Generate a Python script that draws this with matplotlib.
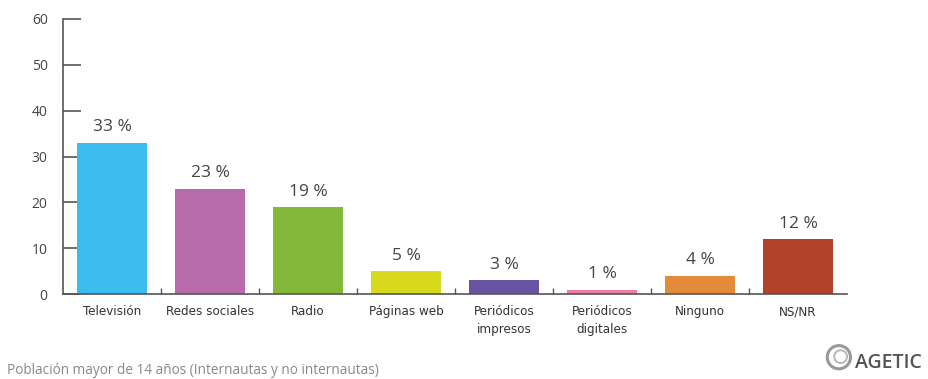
import numpy as np
import matplotlib.pyplot as plt
from matplotlib.patches import Circle

categorias = ["Televisión", "Redes sociales", "Radio", "Páginas web",
              "Periódicos\nimpresos", "Periódicos\ndigitales", "Ninguno", "NS/NR"]
porcentajes = [33, 23, 19, 5, 3, 1, 4, 12]
colores = ["#3bbcee", "#b96aad", "#84b83a", "#d8d81c",
           "#6a52a3", "#e97ea6", "#e48b3b", "#b0432a"]
yticks = [0, 10, 20, 30, 40, 50, 60]

gris = "#555555"
sans = ['Open Sans', 'DejaVu Sans']
plt.rcParams['font.family'] = sans

fig = plt.figure(figsize=(9.29, 3.79), dpi=100)
ax = fig.add_axes([0.0678, 0.224, 0.844, 0.726])

x = np.arange(len(categorias))
ax.bar(x, porcentajes, width=0.72, color=colores, zorder=2)

for xi, v in zip(x, porcentajes):
    ax.text(xi, v + 1.6, f"{v} %", ha="center", va="bottom",
            fontsize=12.5, color="#444444")

ax.set_xlim(-0.5, len(categorias) - 0.5)
ax.set_ylim(0, 60)
ax.set_yticks(yticks)
ax.set_yticklabels([str(t) for t in yticks], fontsize=10, color="#444444")
ax.tick_params(axis="y", direction="in", length=13, width=1.2, color=gris, pad=11)

ax.set_xticks(x)
ax.set_xticklabels(categorias, fontsize=9.5, color="#333333", va="top",
                   linespacing=1.45, family="DejaVu Sans", fontstretch="condensed")
ax.tick_params(axis="x", length=0, pad=8)
# small separators between categories
ax.set_xticks(np.arange(0.5, len(categorias) - 0.5), minor=True)
ax.tick_params(axis="x", which="minor", direction="in", length=4, width=1, color=gris)

for s in ["top", "right"]:
    ax.spines[s].set_visible(False)
for s in ["left", "bottom"]:
    ax.spines[s].set_color(gris)
    ax.spines[s].set_linewidth(1.2)

fig.text(0.008, 0.012, "Población mayor de 14 años (Internautas y no internautas)",
         fontsize=9.8, color="#888888")

# AGETIC mark
fig.text(0.92, 0.03, "AGETIC", fontsize=14, color="#555555", ha="left",
         fontweight="semibold")
logo = fig.add_axes([0.888, 0.02, 0.03, 0.075])
logo.set_aspect("equal")
logo.add_patch(Circle((0, 0), 1, fill=False, lw=2.2, color="#999999"))
logo.add_patch(Circle((0.15, 0.05), 0.55, fill=False, lw=1.5, color="#bbbbbb"))
logo.set_xlim(-1.2, 1.2)
logo.set_ylim(-1.2, 1.2)
logo.axis("off")

fig.savefig("out.png", dpi=100)
